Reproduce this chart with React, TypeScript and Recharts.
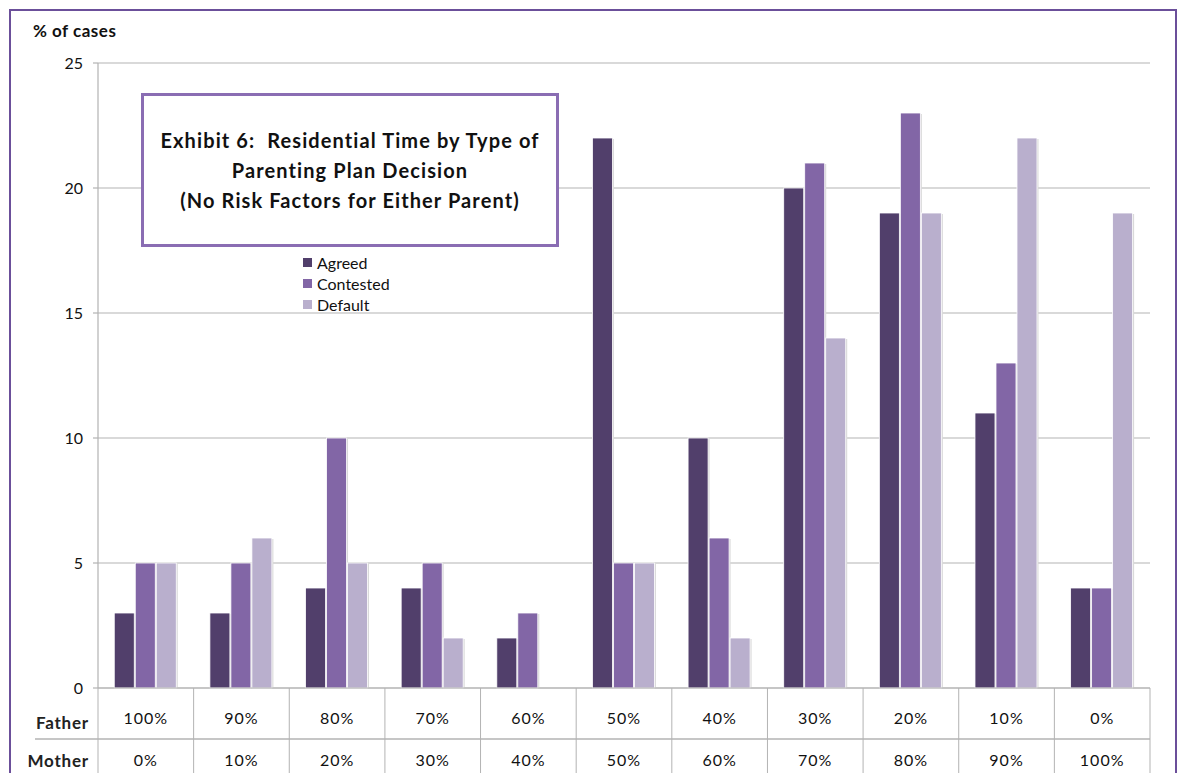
import React from 'react';
import { BarChart, Bar, XAxis, YAxis, CartesianGrid, Legend } from 'recharts';

const fatherShare = ['100%', '90%', '80%', '70%', '60%', '50%', '40%', '30%', '20%', '10%', '0%'];
const motherShare = ['0%', '10%', '20%', '30%', '40%', '50%', '60%', '70%', '80%', '90%', '100%'];
const agreed = [3, 3, 4, 4, 2, 22, 10, 20, 19, 11, 4];
const contested = [5, 5, 10, 5, 3, 5, 6, 21, 23, 13, 4];
const defaultPlan = [5, 6, 5, 2, 0, 5, 2, 14, 19, 22, 19];
const yTicks = [0, 5, 10, 15, 20, 25];

const series = [
  { key: 'agreed', name: 'Agreed', color: '#513f6b' },
  { key: 'contested', name: 'Contested', color: '#8266a6' },
  { key: 'default', name: 'Default', color: '#b9afcd' },
];

const data = fatherShare.map((f, i) => ({
  father: f,
  mother: motherShare[i],
  agreed: agreed[i],
  contested: contested[i],
  default: defaultPlan[i],
}));

const FONT = 'Lato, Carlito, Calibri, "DejaVu Sans", sans-serif';
const W = 1178;
const H = 773;
const LEFT = 98;
const RIGHT = 28;
const PLOT_W = W - LEFT - RIGHT;
const GRID = '#b3b3b3';

const BarShape = (props: any) => {
  const { x, y, width, height, fill } = props;
  if (!height || height <= 0) return null;
  return (
    <g>
      <rect x={x + 1.5} y={y + 1} width={width} height={height} fill="#d9d9d9" />
      <rect x={x} y={y} width={width} height={height} fill={fill} stroke="#ffffff" strokeWidth={0.8} />
    </g>
  );
};

const TableTick = (props: any) => {
  const { x, y, index, payload } = props;
  const n = fatherShare.length;
  const band = PLOT_W / n;
  const left = x - band / 2;
  const right = x + band / 2;
  const i = index;
  return (
    <g>
      <line x1={left} y1={y} x2={left} y2={H} stroke={GRID} strokeWidth={1} />
      {i === n - 1 && <line x1={right} y1={y} x2={right} y2={H} stroke={GRID} strokeWidth={1} />}
      {i === 0 && (
        <>
          <line x1={35} y1={y + 51} x2={LEFT + PLOT_W} y2={y + 51} stroke={GRID} strokeWidth={1.5} />
          <text x={89} y={y + 41} textAnchor="end" fontFamily={FONT} fontWeight="bold" fontSize={17} letterSpacing={0.8} fill="#222">
            Father
          </text>
          <text x={89} y={y + 79} textAnchor="end" fontFamily={FONT} fontWeight="bold" fontSize={17} letterSpacing={0.8} fill="#222">
            Mother
          </text>
        </>
      )}
      <text x={x} y={y + 36} textAnchor="middle" fontFamily={FONT} fontSize={16} letterSpacing={1} fill="#111">
        {payload.value}
      </text>
      <text x={x} y={y + 78} textAnchor="middle" fontFamily={FONT} fontSize={16} letterSpacing={1} fill="#111">
        {motherShare[i]}
      </text>
    </g>
  );
};

const LegendContent = () => (
  <div style={{ fontFamily: FONT, fontSize: 16, color: '#111', lineHeight: '21px' }}>
    {series.map((s) => (
      <div key={s.key} style={{ display: 'flex', alignItems: 'center' }}>
        <span style={{ display: 'inline-block', width: 9, height: 9, background: s.color, marginRight: 5 }} />
        <span>{s.name}</span>
      </div>
    ))}
  </div>
);

export default function App() {
  return (
    <div style={{ position: 'absolute', left: 0, top: 0, width: W, height: H, background: '#fff', overflow: 'hidden' }}>
      <div
        style={{
          position: 'absolute',
          left: 9,
          top: 9,
          width: 1168,
          height: 800,
          border: '2px solid #6b4f9a',
          boxSizing: 'border-box',
        }}
      />
      <BarChart
        width={W}
        height={H}
        data={data}
        margin={{ top: 63, right: RIGHT, bottom: 0, left: 0 }}
        barCategoryGap="17%"
        barGap={1}
      >
        <CartesianGrid vertical={false} stroke={GRID} strokeWidth={1.2} />
        <XAxis
          dataKey="father"
          height={85}
          tickLine={false}
          tickSize={0}
          tickMargin={0}
          axisLine={{ stroke: GRID, strokeWidth: 1.2 }}
          tick={<TableTick />}
          interval={0}
        />
        <YAxis
          width={LEFT}
          domain={[0, 25]}
          ticks={yTicks}
          tickSize={5}
          tickMargin={10}
          tickLine={{ stroke: GRID, strokeWidth: 1.2 }}
          axisLine={{ stroke: GRID, strokeWidth: 1.2 }}
          tick={{ fontFamily: FONT, fontSize: 16, fill: '#111' }}
        />
        <Legend
          layout="vertical"
          verticalAlign="middle"
          align="center"
          content={<LegendContent />}
          wrapperStyle={{ position: 'absolute', left: 303, top: 252, width: 120 }}
        />
        {series.map((s) => (
          <Bar key={s.key} dataKey={s.key} name={s.name} fill={s.color} isAnimationActive={false} shape={<BarShape />} />
        ))}
      </BarChart>
      <div
        style={{
          position: 'absolute',
          left: 33,
          top: 20,
          fontFamily: FONT,
          fontWeight: 'bold',
          fontSize: 17,
          letterSpacing: 0.5,
          color: '#111',
        }}
      >
        % of cases
      </div>
      <div
        style={{
          position: 'absolute',
          left: 141,
          top: 93,
          width: 418,
          height: 154,
          border: '3px solid #8a6db3',
          boxSizing: 'border-box',
          background: '#fff',
          display: 'flex',
          flexDirection: 'column',
          justifyContent: 'center',
          alignItems: 'center',
          fontFamily: FONT,
          fontWeight: 'bold',
          fontSize: 20,
          letterSpacing: 1.1,
          lineHeight: '30px',
          color: '#111',
          textAlign: 'center',
        }}
      >
        <div>Exhibit 6:&nbsp; Residential Time by Type of</div>
        <div>Parenting Plan Decision</div>
        <div>(No Risk Factors for Either Parent)</div>
      </div>
    </div>
  );
}
